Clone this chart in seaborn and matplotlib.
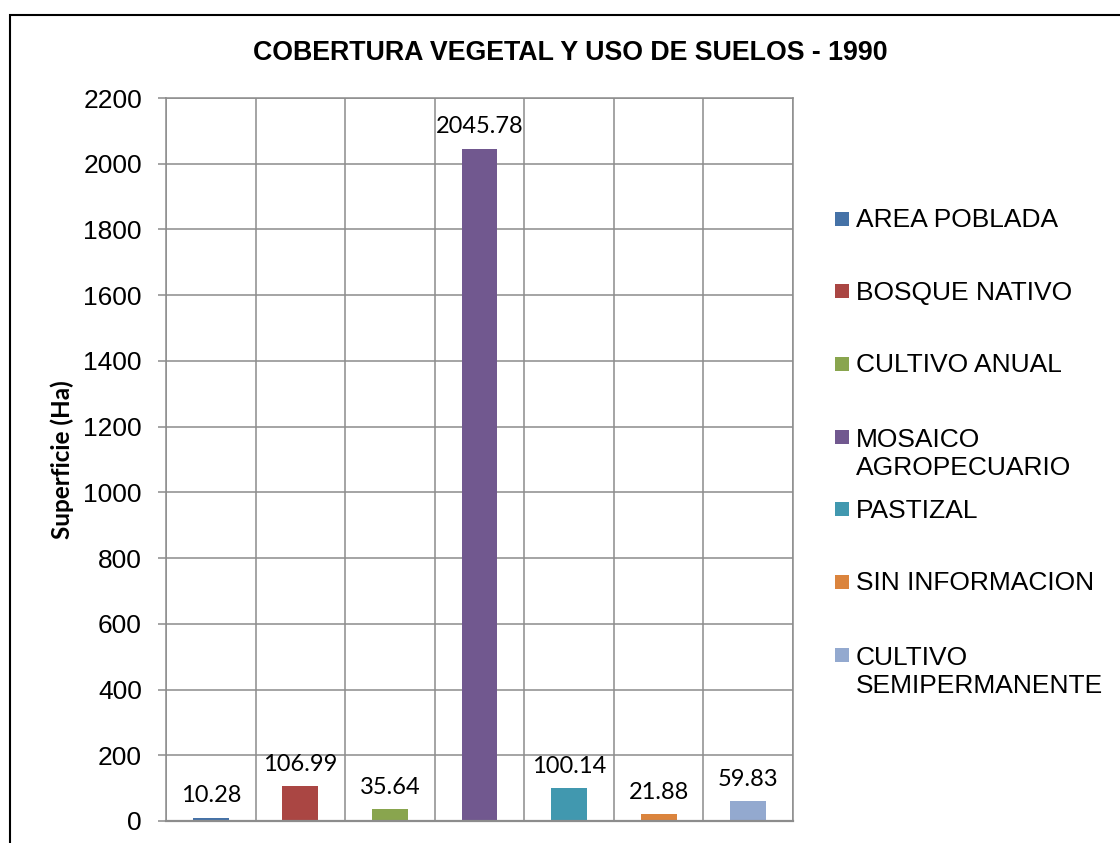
import numpy as np
import pandas as pd
import matplotlib.pyplot as plt
import matplotlib.patches as mpatches
import seaborn as sns

# datos (Ha) - 1990
categorias = ["AREA POBLADA", "BOSQUE NATIVO", "CULTIVO ANUAL", "MOSAICO AGROPECUARIO",
              "PASTIZAL", "SIN INFORMACION", "CULTIVO SEMIPERMANENTE"]
etiquetas_leyenda = ["AREA POBLADA", "BOSQUE NATIVO", "CULTIVO ANUAL", "MOSAICO\nAGROPECUARIO",
                     "PASTIZAL", "SIN INFORMACION", "CULTIVO\nSEMIPERMANENTE"]
superficie_ha = [10.28, 106.99, 35.64, 2045.78, 100.14, 21.88, 59.83]
colores = ["#4572A7", "#AA4643", "#89A54E", "#71588F", "#4198AF", "#DB843D", "#93A9CF"]
y_ticks = list(range(0, 2201, 200))

df = pd.DataFrame({"Categoria": categorias, "Superficie": superficie_ha})

sns.set_style("white")
plt.rcParams['font.family'] = ['Liberation Sans', 'DejaVu Sans']

W, H = 1120, 843
fig = plt.figure(figsize=(W / 100, H / 100), dpi=100)
ax = fig.add_axes([166 / W, 1 - 821 / H, 627 / W, 723 / H])

sns.barplot(data=df, x="Categoria", y="Superficie", hue="Categoria", palette=colores,
            width=0.4, saturation=1, legend=False, linewidth=0, edgecolor="none", ax=ax)

ax.set_xlim(-0.5, 6.5)
ax.set_ylim(0, 2200)
ax.set_yticks(y_ticks)
ax.set_xticks([])
ax.set_xticks(np.arange(-0.5, 7, 1), minor=True)
ax.set_xlabel("")
gris = "#8c8c8c"
ax.grid(axis="y", which="major", color=gris, lw=1.1)
ax.grid(axis="x", which="minor", color=gris, lw=1.1)
ax.set_axisbelow(True)
for s in ax.spines.values():
    s.set_visible(True)
    s.set_color(gris)
    s.set_linewidth(1.1)
ax.spines["bottom"].set_linewidth(1.6)
ax.tick_params(axis="x", which="both", length=0)
ax.tick_params(axis="y", left=True, length=5.8, width=1.1, color=gris, pad=11.5,
               labelsize=19, labelcolor="black")

ax.set_ylabel("Superficie (Ha)", fontsize=17.5, fontweight="bold", family="Lato", color="black")
ax.yaxis.set_label_coords(-0.147, 0.5)

# etiquetas de datos
for i, v in enumerate(superficie_ha):
    ax.annotate(f"{v:.2f}", xy=(i, v), xytext=(0, 11), textcoords="offset points",
                ha="center", va="baseline", fontsize=17, family="Lato", color="black")

fig.text(570 / W, 1 - 60 / H, "COBERTURA VEGETAL Y USO DE SUELOS - 1990",
         ha="center", va="baseline", fontsize=19.3, fontweight="bold", color="black")

# leyenda (la segunda linea cae por debajo, como en Excel)
for i, (lab, col) in enumerate(zip(etiquetas_leyenda, colores)):
    base = 227 + 72.7 * i
    extra = 29.5 * lab.count("\n")
    fig.add_artist(mpatches.Rectangle((835 / W, 1 - (base - 1.5) / H), 14 / W, 14 / H,
                                      facecolor=col, edgecolor="none", transform=fig.transFigure))
    fig.text(856 / W, 1 - (base + extra) / H, lab, fontsize=19, va="baseline", ha="left",
             color="black", linespacing=1.2)

# marco
fig.add_artist(mpatches.Rectangle((9.5 / W, -0.1), 1.2, (1 - 14.5 / H) + 0.1, fill=False,
                                  edgecolor="black", lw=1.5, transform=fig.transFigure))

fig.savefig("out.png", dpi=100)
